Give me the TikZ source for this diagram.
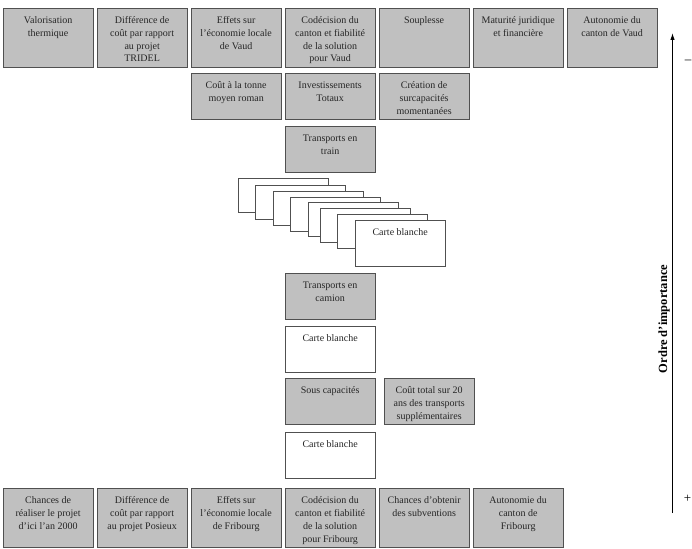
\documentclass[tikz,border=0pt]{standalone}
\usepackage{fontspec}
\setmainfont{Liberation Serif}
\usetikzlibrary{arrows.meta}

\definecolor{critgray}{RGB}{192,192,192}
\definecolor{critline}{RGB}{80,80,80}
\newcommand{\toptext}[2]{\parbox[t][#1][t]{85.5pt}{\centering\rule{0pt}{10.5pt}#2}}

\tikzset{
  crit/.style={draw=critline, line width=0.8pt, fill=critgray, anchor=north west,
    inner xsep=2pt, inner ysep=5pt, text=black!85, font=\fontsize{10}{12.7}\selectfont},
  blank/.style={crit, fill=white},
}

\begin{document}
\begin{tikzpicture}[x=1pt, y=-1pt]
    \useasboundingbox (0,0) rectangle (692,548);

    % top row, Vaud
    \node[crit] (vaud1) at (3,8) {\toptext{49pt}{Valorisation\\thermique}};
    \node[crit] (vaud2) at (97,8) {\toptext{49pt}{Différence de\\coût par rapport\\au projet\\TRIDEL}};
    \node[crit] (vaud3) at (191,8) {\toptext{49pt}{Effets sur\\l'économie locale\\de Vaud}};
    \node[crit] (vaud4) at (285,8) {\toptext{49pt}{Codécision du\\canton et fiabilité\\de la solution\\pour Vaud}};
    \node[crit] (vaud5) at (379,8) {\toptext{49pt}{Souplesse}};
    \node[crit] (vaud6) at (473,8) {\toptext{49pt}{Maturité juridique\\et financière}};
    \node[crit] (vaud7) at (567,8) {\toptext{49pt}{Autonomie du\\canton de Vaud}};

    % second row
    \node[crit] (tonne) at (191,73) {\toptext{36pt}{Coût à la tonne\\moyen roman}};
    \node[crit] (invest) at (285,73) {\toptext{36pt}{Investissements\\Totaux}};
    \node[crit] (surcap) at (379,73) {\toptext{36pt}{Création de\\surcapacités\\momentanées}};
    \node[crit] (train) at (285,126) {\toptext{36pt}{Transports en\\train}};

    % pile of blank cards
    \foreach \x/\y [count=\i] in {238/178, 255/185, 273/191, 290/197, 308/202, 320/208, 337/214}
        \node[blank, minimum width=89.5pt, minimum height=34pt] (card\i) at (\x,\y) {};
    \node[blank] (card8) at (355,220) {\toptext{36pt}{Carte blanche}};

    % middle column
    \node[crit] (camion) at (285,273) {\toptext{36pt}{Transports en\\camion}};
    \node[blank] (blanche1) at (285,326) {\toptext{36pt}{Carte blanche}};
    \node[crit] (souscap) at (285,378) {\toptext{36pt}{Sous capacités}};
    \node[crit] (cout20) at (384,378) {\toptext{36pt}{Coût total sur 20\\ans des transports\\supplémentaires}};
    \node[blank] (blanche2) at (285,432) {\toptext{36pt}{Carte blanche}};

    % bottom row, Fribourg
    \node[crit] (frib1) at (3,488) {\toptext{49pt}{Chances de\\réaliser le projet\\d'ici l'an 2000}};
    \node[crit] (frib2) at (97,488) {\toptext{49pt}{Différence de\\coût par rapport\\au projet Posieux}};
    \node[crit] (frib3) at (191,488) {\toptext{49pt}{Effets sur\\l'économie locale\\de Fribourg}};
    \node[crit] (frib4) at (285,488) {\toptext{49pt}{Codécision du\\canton et fiabilité\\de la solution\\pour Fribourg}};
    \node[crit] (frib5) at (379,488) {\toptext{49pt}{Chances d'obtenir\\des subventions}};
    \node[crit] (frib6) at (473,488) {\toptext{49pt}{Autonomie du\\canton de\\Fribourg}};

    % importance axis
    \coordinate (bas) at (672.5,513);
    \coordinate (haut) at (672.5,33);
    \draw[line width=1pt, -{Latex[length=7pt, width=4.5pt]}] (bas) -- (haut);
    \node[rotate=90, font=\fontsize{12.5}{14}\selectfont\bfseries] (ordre) at (664,319) {Ordre d'importance};
    \node[font=\fontsize{13}{15}\selectfont, inner sep=0pt, anchor=east] (moins) at (691.5,62) {--};
    \node[font=\fontsize{13}{15}\selectfont, inner sep=0pt, anchor=east] (plus) at (691.5,499) {+};
\end{tikzpicture}
\end{document}
